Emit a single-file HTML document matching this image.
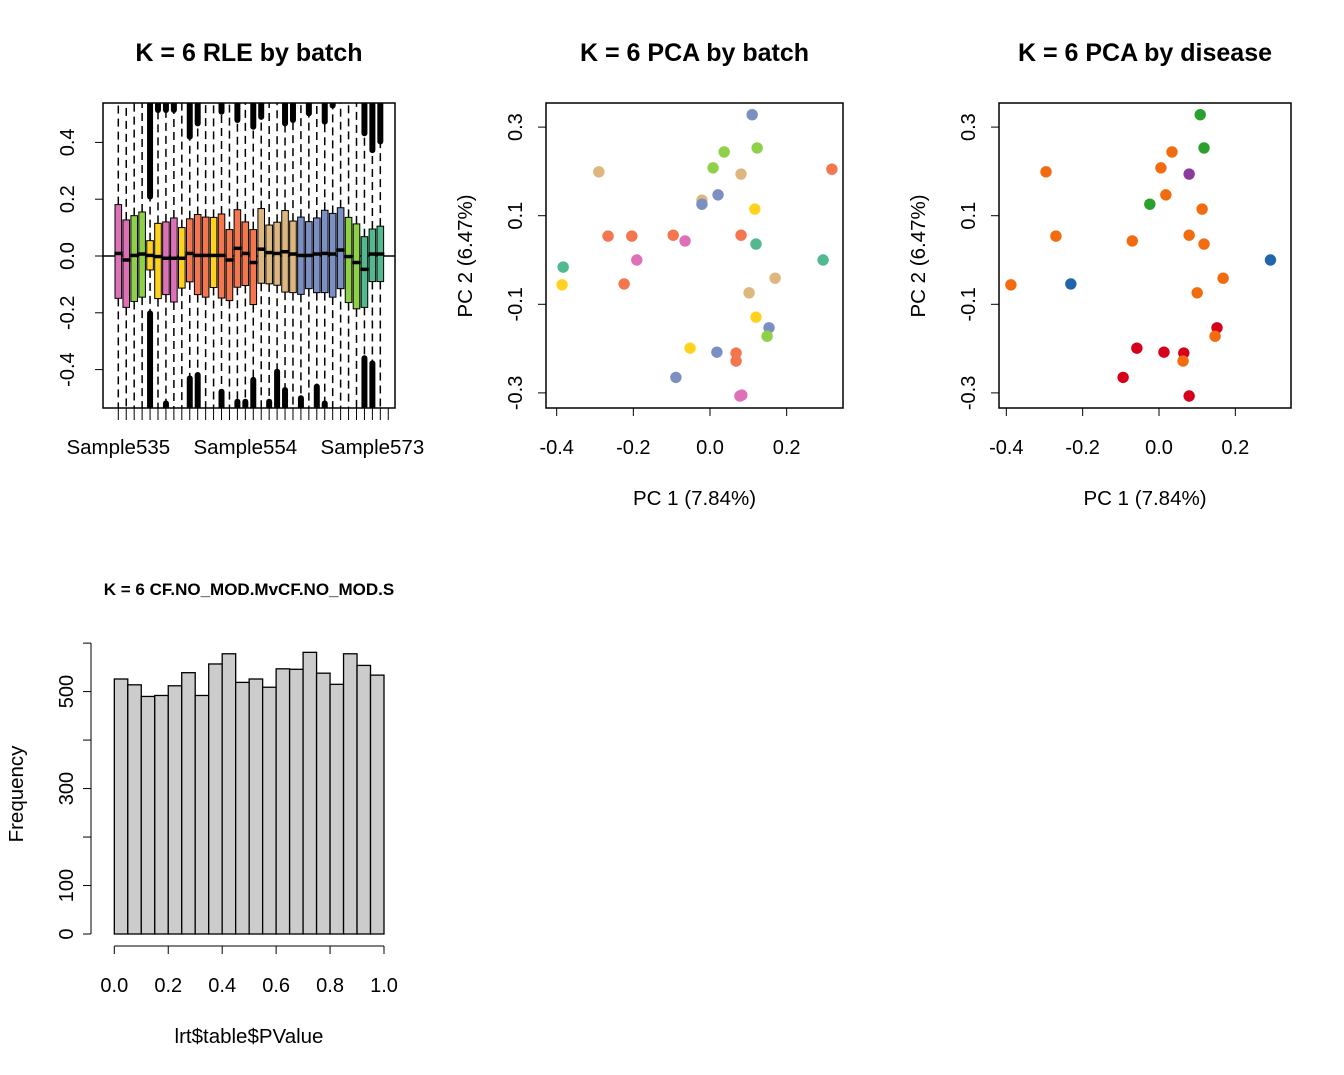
<!DOCTYPE html>
<html><head><meta charset="utf-8"><style>
html,body{margin:0;padding:0;background:#fff}
svg{display:block;font-family:"Liberation Sans",Arial,sans-serif}
</style></head><body>
<svg id="c" width="1344" height="1075" viewBox="0 0 1344 1075" xmlns="http://www.w3.org/2000/svg"></svg>
<script>
// ---------- RLE data ----------
const rleSamples = ["Sample535","","","","","","","","","","","","","","","","Sample554","","","","","","","","","","","","","","","","Sample573","",""];
const rleColors = ["#DE70B8","#DE70B8","#8ED047","#8ED047","#FFD21E","#FFD21E","#DE70B8","#DE70B8","#FFD21E","#F4764F","#F4764F","#F4764F","#FFD21E","#F4764F","#F4764F","#F4764F","#F4764F","#F4764F","#DDB77F","#DDB77F","#DDB77F","#DDB77F","#DDB77F","#7B8FC3","#7B8FC3","#7B8FC3","#7B8FC3","#7B8FC3","#7B8FC3","#8ED047","#8ED047","#51B88F","#51B88F","#51B88F"];
const rleQ3 = [0.181,0.127,0.142,0.155,0.054,0.115,0.120,0.134,0.100,0.131,0.146,0.137,0.136,0.148,0.093,0.163,0.120,0.093,0.167,0.109,0.119,0.160,0.123,0.137,0.121,0.134,0.161,0.150,0.170,0.136,0.113,0.068,0.095,0.105];
const rleQ1 = [-0.149,-0.181,-0.160,-0.145,-0.049,-0.150,-0.136,-0.162,-0.113,-0.091,-0.136,-0.145,-0.111,-0.148,-0.157,-0.110,-0.104,-0.171,-0.096,-0.098,-0.103,-0.127,-0.129,-0.135,-0.115,-0.129,-0.129,-0.145,-0.115,-0.164,-0.186,-0.181,-0.090,-0.090];
const rleMed = [0.009,-0.014,0.002,0.007,0.002,-0.002,-0.008,-0.008,-0.008,0.009,0.002,0.002,0.002,0.002,-0.014,0.027,0.009,-0.023,0.024,0.012,0.009,0.015,0.007,0.002,0.002,0.007,0.009,0.007,0.021,-0.002,-0.023,-0.047,0.007,0.007];
const rleOutTop = [null,null,null,null,0.209,0.514,0.514,0.514,null,0.420,0.467,null,null,0.508,null,0.479,null,0.455,0.490,null,null,0.467,0.479,null,0.502,null,0.473,0.530,null,null,null,0.432,0.373,0.403];
const rleOutBot = [null,null,null,null,-0.202,null,-0.519,null,null,-0.431,-0.419,null,null,-0.478,null,-0.513,-0.513,-0.436,null,-0.513,-0.407,-0.472,null,-0.501,null,-0.460,-0.519,null,null,null,null,-0.360,-0.378,null];
const rleYTicks = [-0.4,-0.2,0.0,0.2,0.4];

// ---------- PCA by batch ----------
const pcaBatchX = [0.110,0.123,0.037,0.008,-0.290,0.081,0.318,-0.021,0.021,-0.021,0.117,-0.266,-0.204,-0.096,-0.065,0.081,0.120,-0.191,-0.383,0.295,-0.386,-0.224,0.170,0.102,0.120,0.154,0.149,-0.052,0.018,0.068,0.068,-0.089,0.078,0.083];
const pcaBatchY = [0.328,0.253,0.244,0.208,0.199,0.194,0.205,0.135,0.147,0.126,0.115,0.054,0.054,0.056,0.043,0.056,0.036,0.000,-0.016,0.000,-0.056,-0.054,-0.041,-0.074,-0.129,-0.153,-0.172,-0.199,-0.208,-0.210,-0.228,-0.265,-0.307,-0.305];
const pcaBatchCol = ["#7B8FC3","#8ED047","#8ED047","#8ED047","#DDB77F","#DDB77F","#F4764F","#DDB77F","#7B8FC3","#7B8FC3","#FFD21E","#F4764F","#F4764F","#F4764F","#DE70B8","#F4764F","#51B88F","#DE70B8","#51B88F","#51B88F","#FFD21E","#F4764F","#DDB77F","#DDB77F","#FFD21E","#7B8FC3","#8ED047","#FFD21E","#7B8FC3","#F4764F","#F4764F","#7B8FC3","#DE70B8","#DE70B8"];

// ---------- PCA by disease ----------
const pcaDisX = [0.108,0.118,0.034,0.005,-0.296,0.079,0.018,-0.024,0.113,-0.270,-0.070,0.079,0.118,0.292,-0.388,-0.231,0.168,0.100,0.152,0.147,-0.058,0.013,0.065,0.063,-0.094,0.079];
const pcaDisY = [0.328,0.253,0.244,0.208,0.199,0.194,0.147,0.126,0.115,0.054,0.043,0.056,0.036,0.000,-0.056,-0.054,-0.041,-0.074,-0.153,-0.172,-0.199,-0.208,-0.210,-0.228,-0.265,-0.307];
const pcaDisCol = ["#2CA02C","#2CA02C","#F26B0F","#F26B0F","#F26B0F","#8B3A9E","#F26B0F","#2CA02C","#F26B0F","#F26B0F","#F26B0F","#F26B0F","#F26B0F","#2166AC","#F26B0F","#2166AC","#F26B0F","#F26B0F","#D7001A","#F26B0F","#D7001A","#D7001A","#D7001A","#F26B0F","#D7001A","#D7001A"];
const pcaXTicks = [-0.4,-0.2,0.0,0.2];
const pcaYTicks = [-0.3,-0.1,0.1,0.3];

// ---------- Histogram ----------
const histFreq = [526,514,490,492,512,539,492,557,578,519,526,509,547,546,581,538,515,578,554,534];
const histXTicks = [0,0.2,0.4,0.6,0.8,1.0];
const histYTicks = [0,100,200,300,400,500,600];
const histYLabels = ["0","100","","300","","500",""];

const svg = document.getElementById('c');
const NS = "http://www.w3.org/2000/svg";
function el(tag, attrs, parent){ const e=document.createElementNS(NS,tag); for(const k in attrs) e.setAttribute(k,attrs[k]); (parent||svg).appendChild(e); return e; }
function txt(x,y,s,size,opts){ const t=el('text',Object.assign({x:x,y:y,'font-size':size,'text-anchor':'middle',fill:'#000'},opts||{})); t.textContent=s; return t; }

// ===== RLE =====
(function(){
  const g = el('g',{});
  
  
  const L=103,R=395,T=103,B=408;
  const y = v => 256 - v*284;
  const x = i => 118.3 + i*7.94;
  const cp = el('clipPath',{id:'rleclip'},g); el('rect',{x:L,y:T,width:R-L,height:B-T},cp);
  const inner = el('g',{'clip-path':'url(#rleclip)'},g);
  el('line',{x1:L,x2:R,y1:y(0),y2:y(0),stroke:'#000','stroke-width':1.5},inner);
  rleQ3.forEach((q3,i)=>{
    const cx=x(i);
    const wt = el('line',{x1:cx,x2:cx,y1:y(q3),y2:T,stroke:'#000','stroke-width':1.5,'stroke-dasharray':'8,5'},inner);
    
    const wb = el('line',{x1:cx,x2:cx,y1:y(rleQ1[i]),y2:B,stroke:'#000','stroke-width':1.5,'stroke-dasharray':'8,5'},inner);
    
    if(rleOutTop[i]!==null){ const o=el('line',{x1:cx,x2:cx,y1:y(rleOutTop[i]),y2:T-10,stroke:'#000','stroke-width':6,'stroke-linecap':'round'},inner);  }
    if(rleOutBot[i]!==null){ const o=el('line',{x1:cx,x2:cx,y1:y(rleOutBot[i]),y2:B+10,stroke:'#000','stroke-width':6,'stroke-linecap':'round'},inner);  }
    const b = el('rect',{x:cx-3.3,y:y(q3),width:6.6,height:y(rleQ1[i])-y(q3),fill:rleColors[i],stroke:'#000','stroke-width':1},inner);
    
    
    el('line',{x1:cx-4,x2:cx+4,y1:y(rleMed[i]),y2:y(rleMed[i]),stroke:'#000','stroke-width':3.5},inner);
  });
  el('rect',{x:L,y:T,width:R-L,height:B-T,fill:'none',stroke:'#000','stroke-width':1.5},g);
  rleYTicks.forEach(v=>{
    el('line',{x1:L,x2:L-8,y1:y(v),y2:y(v),stroke:'#000','stroke-width':1},g);
    const t=txt(74,y(v),v.toFixed(1),20,{transform:`rotate(-90 74 ${y(v)})`}); 
  });
  rleSamples.forEach((s,i)=>{
    el('line',{x1:x(i),x2:x(i),y1:B,y2:B+12,stroke:'#000','stroke-width':1},g);
    if(s){ const t=txt(x(i),454,s,20.5);  }
  });
  const t=txt(249,61,'K = 6 RLE by batch',25,{'font-weight':'bold'}); 
})();

// ===== PCA =====
function pca(L,R,x0,title,xs,ys,cols,name){
  const g = el('g',{});
  
  
  const T=103,B=408, sx=(R===843)?383.3:381.7;
  const x = v => x0 + v*sx;
  const y = v => 260 - v*443;
  xs.forEach((v,i)=>{
    const c=el('circle',{cx:x(v),cy:y(ys[i]),r:5.7,fill:cols[i]},g);
    
    
  });
  el('rect',{x:L,y:T,width:R-L,height:B-T,fill:'none',stroke:'#000','stroke-width':1.5},g);
  pcaXTicks.forEach(v=>{
    el('line',{x1:x(v),x2:x(v),y1:B,y2:B+8,stroke:'#000','stroke-width':1},g);
    const t=txt(x(v),454,v.toFixed(1),20); 
  });
  pcaYTicks.forEach(v=>{
    el('line',{x1:L,x2:L-8,y1:y(v),y2:y(v),stroke:'#000','stroke-width':1},g);
    const xx=L-24; const t=txt(xx,y(v),v.toFixed(1),20,{transform:`rotate(-90 ${xx} ${y(v)})`}); 
  });
  const cx=(L+R)/2;
  let t=txt(cx,61,title,25,{'font-weight':'bold'}); 
  t=txt(cx,505,'PC 1 (7.84%)',20.5); 
  const yx=L-74; t=txt(yx,256,'PC 2 (6.47%)',20.5,{transform:`rotate(-90 ${yx} 256)`}); 
}
pca(546,843,710,'K = 6 PCA by batch',pcaBatchX,pcaBatchY,pcaBatchCol,'pca-batch-plot');
pca(999,1291,1159,'K = 6 PCA by disease',pcaDisX,pcaDisY,pcaDisCol,'pca-disease-plot');

// ===== Histogram =====
(function(){
  const g = el('g',{});
  
  
  const x = v => 114.3 + v*269.7;
  const y = v => 934 - v*0.4848;
  histFreq.forEach((f,i)=>{
    const b=el('rect',{x:x(i*0.05),y:y(f),width:x(0.05)-x(0),height:y(0)-y(f),fill:'#CCCCCC',stroke:'#000','stroke-width':1.3},g);
    
    
  });
  el('line',{x1:91,x2:91,y1:y(0),y2:y(600),stroke:'#000','stroke-width':1},g);
  histYTicks.forEach((v,i)=>{
    el('line',{x1:91,x2:83,y1:y(v),y2:y(v),stroke:'#000','stroke-width':1},g);
    if(histYLabels[i]){ const t=txt(73,y(v),histYLabels[i],20,{transform:`rotate(-90 73 ${y(v)})`});  }
  });
  el('line',{x1:x(0),x2:x(1),y1:946,y2:946,stroke:'#000','stroke-width':1},g);
  histXTicks.forEach(v=>{
    el('line',{x1:x(v),x2:x(v),y1:946,y2:954,stroke:'#000','stroke-width':1},g);
    const t=txt(x(v),992,v.toFixed(1),20); 
  });
  let t=txt(249,595,'K = 6 CF.NO_MOD.MvCF.NO_MOD.S',17,{'font-weight':'bold'}); 
  t=txt(249,1043,'lrt$table$PValue',20.5); 
  t=txt(23,794,'Frequency',20.5,{transform:'rotate(-90 23 794)'}); 
})();
</script>
</body></html>
